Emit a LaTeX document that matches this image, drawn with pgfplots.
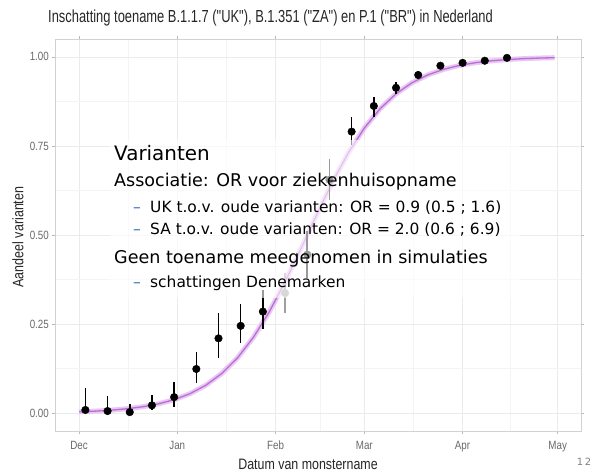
\documentclass[border=0pt]{standalone}
\usepackage{pgfplots}
\pgfplotsset{compat=1.18}
\usepackage{fontspec}
\setmainfont{Liberation Sans}
\newfontfamily\cond[FakeStretch=0.82]{Liberation Sans}
\newfontfamily\condt[FakeStretch=0.74]{Liberation Sans}
\newfontfamily\dv{DejaVu Sans}
\definecolor{curveline}{RGB}{185,110,210}
\definecolor{curveband}{RGB}{230,190,242}
\definecolor{dashblue}{RGB}{50,110,190}
\definecolor{ticklab}{RGB}{105,105,105}

\pgfplotstableread{
d y ep em
2 0.009 0.061 0.009
9 0.006 0.041 0.006
16 0.003 0.022 0.003
23 0.022 0.028 0.014
30 0.045 0.042 0.028
37 0.124 0.048 0.039
44 0.210 0.072 0.055
51 0.245 0.061 0.048
58 0.285 0.060 0.049
72 0.445 0.065 0.065
79 0.655 0.058 0.057
86 0.790 0.040 0.037
93 0.862 0.026 0.031
100 0.913 0.017 0.018
107 0.949 0.011 0.012
114 0.975 0.007 0.008
121 0.983 0.006 0.006
128 0.989 0.005 0.005
135 0.997 0.002 0.004
}\pts

\pgfplotstableread{
d y ep em
65 0.337 0.056 0.056
}\grey

\pgfplotstableread{
d p
0 0.0039
5 0.0057
10 0.0084
15 0.0123
20 0.0179
25 0.0261
30 0.0379
35 0.0547
40 0.0784
45 0.1112
50 0.1553
55 0.2127
60 0.2841
65 0.3684
70 0.4616
75 0.5575
80 0.6493
85 0.7312
90 0.7999
95 0.8546
100 0.8962
105 0.9270
110 0.9491
115 0.9648
120 0.9758
125 0.9834
130 0.9886
135 0.9922
140 0.9947
145 0.9964
150 0.9975
}\fit

\begin{document}
\begin{tikzpicture}[x=1bp,y=1bp]
\path[use as bounding box] (0,0) rectangle (599,475);
\begin{axis}[
  at={(55.1bp,44bp)}, anchor=south west, scale only axis,
  width=526.5bp, height=392bp,
  xmin=-7.55, xmax=158.55, ymin=-0.05, ymax=1.05,
  xtick={0,31,62,90,121,151}, xticklabels={Dec,Jan,Feb,Mar,Apr,May},
  minor xtick={15.5,46.5,76,105.5,136},
  ytick={0,0.25,0.5,0.75,1}, minor ytick={0.125,0.375,0.625,0.875},
  /pgf/number format/assume math mode=true,
  yticklabel style={/pgf/number format/.cd, fixed, fixed zerofill, precision=2},
  xticklabel style={yshift=-4bp},
  ticklabel style={font=\cond\fontsize{12}{13}\selectfont, text=ticklab},
  grid=both,
  major grid style={gray!16, line width=0.6bp},
  minor grid style={gray!9, line width=0.35bp},
  axis line style={gray!35, line width=0.6bp},
  tick align=outside, major tick length=2.75bp, minor tick length=0pt,
  tick style={gray!55, line width=0.5bp},
  clip=false,
]
\addplot[curveband, line width=5bp, opacity=0.85] table[x=d,y=p] {\fit};
\addplot[curveline, line width=1.3bp] table[x=d,y=p] {\fit};
\addplot[only marks, mark=*, mark size=3.8bp, black,
  error bars/.cd, y dir=both, y explicit,
  error bar style={line width=1.6bp, black}, error mark=none]
  table[x=d, y=y, y error plus=ep, y error minus=em] {\pts};
\addplot[only marks, mark=*, mark size=3.8bp, gray!75, mark options={fill=gray!75, draw=gray!75},
  error bars/.cd, y dir=both, y explicit,
  error bar style={line width=1.6bp, gray!75}, error mark=none]
  table[x=d, y=y, y error plus=ep, y error minus=em] {\grey};
\end{axis}
\fill[white, opacity=0.6] (110,177) rectangle (520,335);
\node[anchor=west, font=\condt\fontsize{17.5}{20}\selectfont, text=black!85, inner sep=0] at (48,457) {Inschatting toename B.1.1.7 ("UK"), B.1.351 ("ZA") en P.1 ("BR") in Nederland};
\node[rotate=90, font=\cond\fontsize{15.3}{17}\selectfont, text=black!85, inner sep=0] at (18,238) {Aandeel varianten};
\node[font=\cond\fontsize{15.2}{17}\selectfont, text=black!85, inner sep=0] at (308,11) {Datum van monstername};
\node[font=\dv\fontsize{10}{12}\selectfont, text=gray, inner sep=0] at (584,13) {1\,2};
\begin{scope}[every node/.style={anchor=base west, inner sep=0, text=black}]
\node[font=\dv\fontsize{20}{24}\selectfont] at (114,314) {Varianten};
\node[font=\dv\fontsize{17.6}{20}\selectfont] at (114,288) {Associatie: OR voor ziekenhuisopname};
\node[font=\dv\fontsize{15.5}{18}\selectfont, text=dashblue] at (133,262.5) {–};
\node[font=\dv\fontsize{15.5}{18}\selectfont] at (150,262.5) {UK t.o.v. oude varianten: OR = 0.9 (0.5 ; 1.6)};
\node[font=\dv\fontsize{15.5}{18}\selectfont, text=dashblue] at (133,240.5) {–};
\node[font=\dv\fontsize{15.5}{18}\selectfont] at (150,240.5) {SA t.o.v. oude varianten: OR = 2.0 (0.6 ; 6.9)};
\node[font=\dv\fontsize{17.6}{20}\selectfont] at (114,211.5) {Geen toename meegenomen in simulaties};
\node[font=\dv\fontsize{15.5}{18}\selectfont, text=dashblue] at (133,187) {–};
\node[font=\dv\fontsize{15.5}{18}\selectfont] at (150,187) {schattingen Denemarken};
\end{scope}
\end{tikzpicture}
\end{document}
